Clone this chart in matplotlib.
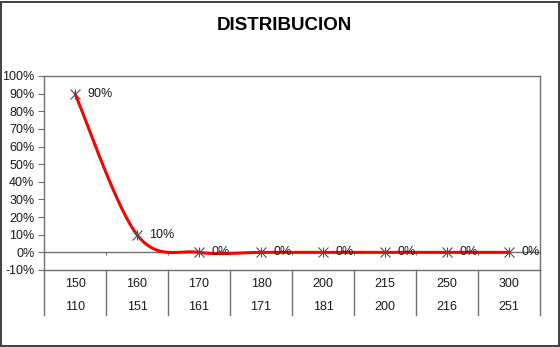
import numpy as np
import matplotlib
matplotlib.use("Agg")
import matplotlib.pyplot as plt
from matplotlib.patches import Rectangle
from matplotlib.transforms import blended_transform_factory

plt.rcParams['font.family'] = ['Liberation Sans', 'DejaVu Sans']

title = "DISTRIBUCION"
upper_limits = ["150", "160", "170", "180", "200", "215", "250", "300"]
lower_limits = ["110", "151", "161", "171", "181", "200", "216", "251"]
shares = [0.90, 0.10, 0.0, 0.0, 0.0, 0.0, 0.0, 0.0]
y_ticks = [-0.1, 0.0, 0.1, 0.2, 0.3, 0.4, 0.5, 0.6, 0.7, 0.8, 0.9, 1.0]

AXIS_GRAY = "#707070"
TEXT = "#1a1a1a"
FS = 9


def smooth_curve(xs, ys, steps=40):
    """Cubic Bezier smoothing through every point (Catmull-Rom tangents)."""
    pts = np.column_stack([xs, ys]).astype(float)
    ext = np.vstack([pts[0], pts, pts[-1]])
    out = []
    t = np.linspace(0, 1, steps)[:, None]
    for i in range(len(pts) - 1):
        p0, p3 = ext[i + 1], ext[i + 2]
        c1 = p0 + (ext[i + 2] - ext[i]) / 6.0
        c2 = p3 - (ext[i + 3] - ext[i + 1]) / 6.0
        seg = ((1 - t) ** 3) * p0 + 3 * ((1 - t) ** 2) * t * c1 \
            + 3 * (1 - t) * t ** 2 * c2 + t ** 3 * p3
        out.append(seg if i == 0 else seg[1:])
    out = np.vstack(out)
    return out[:, 0], out[:, 1]


W, H = 560, 347
fig = plt.figure(figsize=(W / 100, H / 100), dpi=100)
fig.patch.set_facecolor("white")

left, right, top, bottom = 44, 540, 76, 270
ax = fig.add_axes([left / W, 1 - bottom / H, (right - left) / W, (bottom - top) / H])

x = np.arange(len(shares))
sx, sy = smooth_curve(x, shares)
ax.plot(sx, sy, color="#ff0000", lw=2.2, solid_capstyle="round", zorder=3)
ax.plot(x, shares, linestyle="none", marker="x", markersize=7.5,
        markeredgecolor="#505050", markeredgewidth=0.8, zorder=4)
ax.plot(x, shares, linestyle="none", marker="|", markersize=7.5,
        markeredgecolor="#505050", markeredgewidth=0.8, zorder=4)

for xi, v in zip(x, shares):
    ax.annotate(f"{v:.0%}", (xi, v), xytext=(9, 0), textcoords="offset points",
                ha="left", va="center", fontsize=FS, color=TEXT, zorder=5)

ax.set_xlim(-0.5, len(shares) - 0.5)
ax.set_ylim(-0.1, 1.0)
ax.set_yticks(y_ticks)
ax.set_yticklabels([f"{v:.0%}" for v in y_ticks])
ax.tick_params(axis="y", direction="out", length=4, width=0.8, color=AXIS_GRAY,
               labelsize=FS, labelcolor=TEXT, pad=3)

# horizontal axis crosses at 0%, with short ticks between categories
ax.spines["bottom"].set_position(("data", 0))
ax.set_xticks(np.arange(len(shares) + 1) - 0.5)
ax.set_xticklabels([])
ax.tick_params(axis="x", direction="out", length=2.5, width=0.8, color=AXIS_GRAY)
for side in ["left", "bottom", "top", "right"]:
    ax.spines[side].set_color(AXIS_GRAY)
    ax.spines[side].set_linewidth(1.0)
ax.axhline(-0.1, color=AXIS_GRAY, lw=1.0, clip_on=False, zorder=2)

# two-level category table below the plot
trans = blended_transform_factory(ax.transData, ax.transAxes)
plot_h = bottom - top
row1 = -(284 - bottom) / plot_h
row2 = -(307 - bottom) / plot_h
table_end = -(315 - bottom) / plot_h
for xi, (u, l) in enumerate(zip(upper_limits, lower_limits)):
    ax.text(xi, row1, u, transform=trans, ha="center", va="center",
            fontsize=FS, color=TEXT)
    ax.text(xi, row2, l, transform=trans, ha="center", va="center",
            fontsize=FS, color=TEXT)
for b in np.arange(len(shares) + 1) - 0.5:
    ax.plot([b, b], [0, table_end], transform=trans, color=AXIS_GRAY,
            lw=1.0, clip_on=False)

fig.text(284.5 / W, 1 - 26 / H, title, ha="center", va="center",
         fontsize=13.5, fontweight="bold", color="black")

fig.patches.append(Rectangle((1 / W, 1.5 / H), (W - 2.5) / W, (H - 3) / H,
                             transform=fig.transFigure, fill=False,
                             edgecolor="#404040", lw=1.4))

fig.savefig("out.png", dpi=100, facecolor="white")
